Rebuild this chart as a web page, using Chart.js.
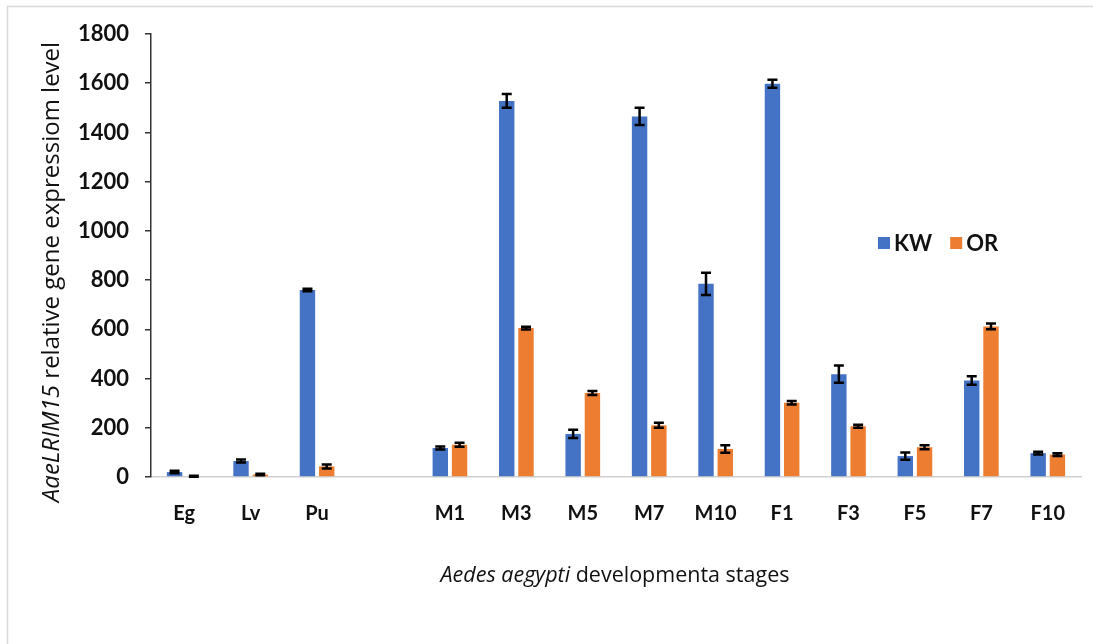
<!DOCTYPE html>
<html>
<head>
<meta charset="utf-8">
<script src="https://cdn.jsdelivr.net/npm/chart.js@4"></script>
<style>
html,body{margin:0;padding:0;background:#fff;}
#wrap{position:relative;width:1093px;height:644px;}
</style>
</head>
<body>
<div id="wrap"><canvas id="c" width="1093" height="644"></canvas></div>
<script>
// ---- data ----
const categories = ["Eg", "Lv", "Pu", "", "M1", "M3", "M5", "M7", "M10", "F1", "F3", "F5", "F7", "F10"];
const kwValues = [20, 65, 760, null, 118, 1528, 175, 1465, 785, 1598, 418, 85, 392, 97];
const kwErrors = [5, 6, 5, null, 6, 28, 17, 35, 45, 16, 35, 15, 17, 6];
const orValues = [3, 10, 43, null, 131, 605, 341, 210, 114, 302, 206, 121, 612, 91];
const orErrors = [2, 3, 8, null, 8, 6, 8, 10, 15, 7, 6, 8, 12, 6];
const yTicks = [0, 200, 400, 600, 800, 1000, 1200, 1400, 1600, 1800];
const seriesNames = ["KW", "OR"];
const seriesColors = ["#4472C4", "#ED7D31"];

const FONT = "Lato, 'Open Sans', sans-serif";
const FONT2 = "'Open Sans', Lato, sans-serif";

const errorBarPlugin = {
  id: 'errorBars',
  afterDatasetsDraw(chart) {
    const ctx = chart.ctx;
    const y = chart.scales.y;
    const errs = [kwErrors, orErrors];
    ctx.save();
    ctx.strokeStyle = '#000';
    ctx.lineWidth = 2.5;
    chart.data.datasets.forEach((ds, di) => {
      const meta = chart.getDatasetMeta(di);
      meta.data.forEach((bar, i) => {
        const v = ds.data[i], e = errs[di][i];
        if (v == null || e == null) return;
        const x = bar.x;
        const yTop = y.getPixelForValue(v + e);
        const yBot = y.getPixelForValue(Math.max(0, v - e));
        const cap = 5;
        ctx.beginPath();
        ctx.moveTo(x, yTop); ctx.lineTo(x, yBot);
        ctx.moveTo(x - cap, yTop); ctx.lineTo(x + cap, yTop);
        ctx.moveTo(x - cap, yBot); ctx.lineTo(x + cap, yBot);
        ctx.stroke();
      });
    });
    ctx.restore();
  }
};

function drawMixed(ctx, parts, cx, cy, family) {
  let total = 0;
  parts.forEach(p => {
    ctx.font = (p.italic ? 'italic ' : '') + p.size + 'px ' + family;
    p.w = ctx.measureText(p.text).width;
    total += p.w;
  });
  let x = cx - total / 2;
  ctx.textBaseline = 'middle';
  ctx.textAlign = 'left';
  parts.forEach(p => {
    ctx.font = (p.italic ? 'italic ' : '') + p.size + 'px ' + family;
    ctx.fillText(p.text, x, cy);
    x += p.w;
  });
}

const decorPlugin = {
  id: 'decor',
  beforeDraw(chart) {
    const ctx = chart.ctx;
    ctx.save();
    ctx.fillStyle = '#fff';
    ctx.fillRect(0, 0, chart.width, chart.height);
    ctx.strokeStyle = '#d9d9d9';
    ctx.lineWidth = 1.5;
    ctx.strokeRect(7.5, 6.5, chart.width + 10, chart.height + 10);
    ctx.restore();
  },
  afterDraw(chart) {
    const ctx = chart.ctx;
    ctx.save();
    ctx.fillStyle = '#111';
    ctx.translate(52, 272);
    ctx.rotate(-Math.PI / 2);
    drawMixed(ctx, [
      {text: 'AaeLRIM15', italic: true, size: 24},
      {text: ' relative gene expressiom level', italic: false, size: 24}
    ], 0, 0, FONT2);
    ctx.restore();
    ctx.save();
    ctx.fillStyle = '#111';
    drawMixed(ctx, [
      {text: 'Aedes aegypti', italic: true, size: 21.5},
      {text: ' developmenta stages', italic: false, size: 21.5}
    ], 615, 576, FONT2);
    // legend
    ctx.font = 'bold 22px ' + FONT;
    ctx.textBaseline = 'middle';
    ctx.textAlign = 'left';
    const ly = 243;
    let lx = 878;
    seriesNames.forEach((n, i) => {
      ctx.fillStyle = seriesColors[i];
      ctx.fillRect(lx, ly - 6, 12, 12);
      ctx.fillStyle = '#111';
      ctx.fillText(n, lx + 16, ly + 1);
      lx += 16 + ctx.measureText(n).width + 18;
    });
    ctx.restore();
  }
};

new Chart(document.getElementById('c'), {
  type: 'bar',
  data: {
    labels: categories,
    datasets: [
      {label: seriesNames[0], data: kwValues, backgroundColor: seriesColors[0]},
      {label: seriesNames[1], data: orValues, backgroundColor: seriesColors[1]}
    ]
  },
  options: {
    responsive: false,
    animation: false,
    devicePixelRatio: 1,
    layout: {padding: {top: 34, left: 0, right: 12, bottom: 0}},
    datasets: {bar: {categoryPercentage: 0.58, barPercentage: 0.8}},
    plugins: {legend: {display: false}, tooltip: {enabled: false}},
    scales: {
      x: {
        grid: {display: false, drawTicks: false},
        border: {display: true, color: '#d0d0d0', width: 1.5},
        ticks: {color: '#111', font: {family: FONT, size: 20, weight: 'bold'}, padding: 25, maxRotation: 0, autoSkip: false},
        afterFit(s) { s.height = 644 - 477; }
      },
      y: {
        min: 0, max: 1800,
        afterBuildTicks(s) { s.ticks = yTicks.map(v => ({value: v})); },
        grid: {display: true, drawOnChartArea: false, drawTicks: true, tickLength: 6, color: '#333', lineWidth: 1.5},
        border: {display: true, color: '#333', width: 1.5},
        ticks: {color: '#111', font: {family: FONT, size: 22, weight: 'bold'}, padding: 16,
                callback: v => String(v)},
        afterFit(s) { s.width = 151; }
      }
    }
  },
  plugins: [errorBarPlugin, decorPlugin]
});
</script>
</body>
</html>
